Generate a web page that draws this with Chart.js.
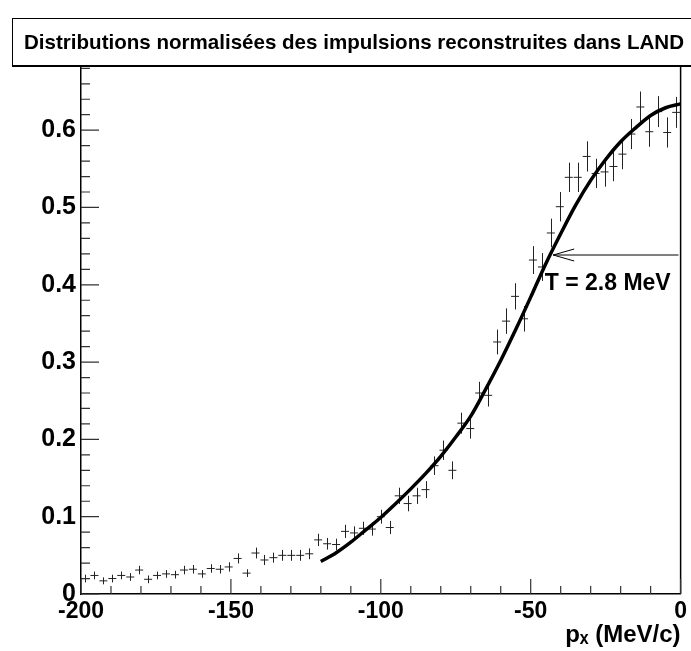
<!DOCTYPE html>
<html><head><meta charset="utf-8">
<script src="https://cdn.jsdelivr.net/npm/chart.js@4.4.1/dist/chart.umd.min.js"></script>
<style>html,body{margin:0;padding:0;background:#fff;}#wrap{width:691px;height:651px;}</style>
</head><body><div id="wrap"><canvas id="c" width="691" height="651"></canvas></div>
<script>
// ---------- data ----------
const titleText = 'Distributions normalisées des impulsions reconstruites dans LAND';
const xAxisTitle = 'pₓ (MeV/c)';
const annotationText = 'T = 2.8 MeV';
const xTickLabels = ['-200', '-150', '-100', '-50', '0'];
const yTickLabels = ['0', '0.1', '0.2', '0.3', '0.4', '0.5', '0.6'];
const histLow = -200, histHigh = 0, nBins = 67;
const values = [0.020,0.024,0.017,0.020,0.024,0.022,0.031,0.019,0.024,0.026,0.025,0.031,0.032,0.026,0.033,0.032,0.035,
  0.046,0.027,0.053,0.044,0.047,0.050,0.050,0.050,0.052,
  0.070,0.065,0.064,0.081,0.079,0.085,0.084,0.100,0.086,
  0.127,0.117,0.127,0.135,0.166,0.186,0.160,0.221,0.214,0.260,0.257,
  0.326,0.353,0.385,0.356,0.432,0.423,0.467,0.501,0.539,0.539,0.566,0.544,0.546,0.553,0.569,0.595,0.630,0.598,0.624,0.597,0.623];
const errors = [0.005,0.005,0.0045,0.005,0.005,0.005,0.0055,0.005,0.005,0.005,0.005,0.0055,0.0055,0.005,0.0055,0.0055,0.006,
  0.0065,0.005,0.007,0.0065,0.0065,0.007,0.007,0.007,0.007,
  0.008,0.0075,0.0075,0.0085,0.0085,0.0085,0.0085,0.009,0.0085,
  0.0105,0.010,0.0105,0.011,0.012,0.0125,0.0115,0.0135,0.013,0.0145,0.0145,
  0.016,0.0165,0.017,0.0165,0.018,0.018,0.0185,0.019,0.019,0.019,0.0195,0.019,0.019,0.019,0.0195,0.0195,0.020,0.0195,0.020,0.0195,0.020];
const curveX = [-120,-115,-110,-105,-100,-95,-90,-85,-80,-75,-70,-65,-60,-55,-50,-45,-40,-35,-30,-25,-20,-15,-10,-5,0];
const curveY = [0.042,0.053,0.067,0.083,0.099,0.117,0.136,0.156,0.178,0.203,0.230,0.265,0.302,0.342,0.384,0.427,0.466,0.503,0.535,0.562,0.585,0.603,0.619,0.629,0.634];
const arrowX = [-0.7, -42.5];
const arrowY = 0.4385;
const labelX = -45.3;
const labelY = 0.401;

// ---------- build ----------
const binWidth = (histHigh - histLow) / nBins;
const binCenters = values.map((v, i) => histLow + binWidth * (i + 0.5));
const histPoints = values.map((v, i) => ({x: binCenters[i], y: v}));
const curvePoints = curveX.map((x, i) => ({x: x, y: curveY[i]}));

const FONT = '"Liberation Sans", Arial, Helvetica, sans-serif';
const mctx = document.createElement('canvas').getContext('2d');
mctx.font = 'bold 20px ' + FONT;
const titleSize = Math.round(20 * 668 / mctx.measureText(titleText).width * 10) / 10;

const errorBars = {
  id: 'errorBars',
  beforeDatasetsDraw(chart) {
    const ctx = chart.ctx, xs = chart.scales.x, ys = chart.scales.y;
    ctx.save();
    ctx.strokeStyle = '#222';
    ctx.lineWidth = 1;
    ctx.beginPath();
    values.forEach((v, i) => {
      const px = Math.round(xs.getPixelForValue(binCenters[i])) + 0.5;
      ctx.moveTo(px, ys.getPixelForValue(v - errors[i]));
      ctx.lineTo(px, ys.getPixelForValue(v + errors[i]));
    });
    ctx.stroke();
    ctx.restore();
  }
};

const frameAndTicks = {
  id: 'frameAndTicks',
  beforeDraw(chart) {
    const ctx = chart.ctx;
    const tb = chart.titleBlock;
    ctx.save();
    ctx.fillStyle = '#fff';
    ctx.fillRect(0, 0, chart.width, chart.height);
    ctx.strokeStyle = '#000';
    ctx.lineWidth = 1;
    ctx.strokeRect(12.5, tb.top + 0.5, 690, tb.bottom - tb.top - 1);
    ctx.lineWidth = 2;
    ctx.beginPath();
    ctx.moveTo(12, tb.bottom);
    ctx.lineTo(691, tb.bottom);
    ctx.stroke();
    ctx.restore();
  },
  afterDraw(chart) {
    const ctx = chart.ctx, xs = chart.scales.x, ys = chart.scales.y, a = chart.chartArea;
    ctx.save();
    ctx.strokeStyle = '#000';
    ctx.lineWidth = 1.5;
    ctx.beginPath();
    ctx.moveTo(a.left, a.top); ctx.lineTo(a.right, a.top); ctx.lineTo(a.right, a.bottom);
    ctx.stroke();
    ctx.strokeStyle = '#333';
    ctx.lineWidth = 1.2;
    ctx.beginPath();
    for (let k = 0; k <= 34; k++) {
      const v = k * 0.02;
      const py = ys.getPixelForValue(v);
      if (py < a.top) break;
      const len = (k % 5 === 0) ? 18 : 9;
      ctx.moveTo(a.left, py); ctx.lineTo(a.left + len, py);
    }
    for (let k = 0; k <= 20; k++) {
      const v = -200 + k * 10;
      const px = xs.getPixelForValue(v);
      const len = (k % 5 === 0) ? 15 : 8;
      ctx.moveTo(px, a.bottom); ctx.lineTo(px, a.bottom - len);
    }
    ctx.stroke();
    ctx.restore();
  },
  afterDatasetsDraw(chart) {
    const ctx = chart.ctx, xs = chart.scales.x, ys = chart.scales.y;
    ctx.save();
    const y = ys.getPixelForValue(arrowY);
    const x0 = xs.getPixelForValue(arrowX[0]), x1 = xs.getPixelForValue(arrowX[1]);
    ctx.strokeStyle = '#000';
    ctx.lineWidth = 1;
    ctx.beginPath();
    ctx.moveTo(x0, y); ctx.lineTo(x1, y);
    ctx.moveTo(x1 + 21, y - 6); ctx.lineTo(x1, y); ctx.lineTo(x1 + 21, y + 6);
    ctx.stroke();
    ctx.fillStyle = '#000';
    ctx.font = 'bold 23px ' + FONT;
    ctx.textBaseline = 'middle';
    ctx.textAlign = 'left';
    ctx.fillText(annotationText, xs.getPixelForValue(labelX), ys.getPixelForValue(labelY));
    ctx.restore();
  }
};

new Chart(document.getElementById('c'), {
  data: {
    datasets: [
      {
        type: 'line', label: 'fit', data: curvePoints, order: 0,
        borderColor: '#000', borderWidth: 3.5, pointRadius: 0, fill: false,
        cubicInterpolationMode: 'monotone'
      },
      {
        type: 'scatter', label: 'data', data: histPoints, order: 1,
        pointStyle: 'line', pointRadius: 4, borderColor: '#222', borderWidth: 1,
        backgroundColor: '#222'
      }
    ]
  },
  options: {
    responsive: false,
    devicePixelRatio: 1,
    animation: false,
    layout: {padding: {left: 24, right: 7, top: 18, bottom: 0}, autoPadding: false},
    plugins: {
      legend: {display: false},
      tooltip: {enabled: false},
      title: {
        display: true, text: titleText, color: '#000', align: 'center',
        font: {family: FONT, size: titleSize, weight: 'bold', lineHeight: 1.2},
        padding: {top: 13, bottom: 66 - 18 - 13 - titleSize * 1.2}
      }
    },
    scales: {
      x: {
        type: 'linear', min: histLow, max: histHigh,
        grid: {display: false, drawTicks: false},
        border: {display: true, color: '#000', width: 1.5},
        ticks: {
          stepSize: 50, padding: 4, maxRotation: 0, autoSkip: false, color: '#000',
          font: {family: FONT, size: 23, weight: 'bold'},
          callback: (v, i) => xTickLabels[i]
        },
        title: {
          display: true, text: xAxisTitle, align: 'end', color: '#000',
          font: {family: FONT, size: 24, weight: 'bold'},
          padding: {top: 0, bottom: 1}
        },
        afterFit: (s) => { s.height = 57; }
      },
      y: {
        type: 'linear', min: 0, max: 0.683,
        grid: {display: false, drawTicks: false},
        border: {display: true, color: '#000', width: 1.5},
        ticks: {
          stepSize: 0.1, includeBounds: false, padding: 5, color: '#000',
          font: {family: FONT, size: 25, weight: 'bold'},
          callback: (v, i) => yTickLabels[i]
        },
        afterFit: (s) => { s.width = 57; }
      }
    }
  },
  plugins: [frameAndTicks, errorBars]
});
</script>
</body></html>
